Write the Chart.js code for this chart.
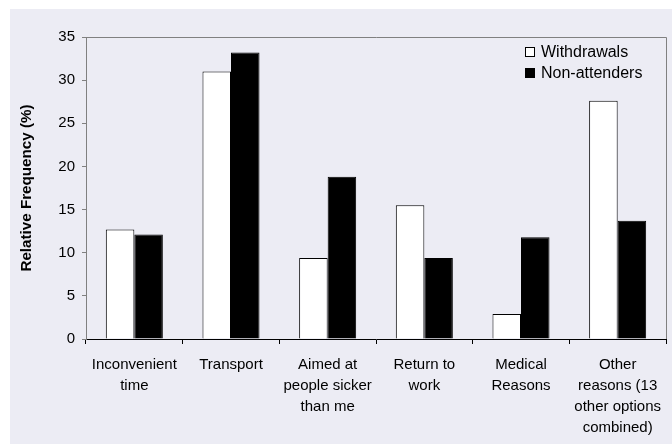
<!DOCTYPE html>
<html>
<head>
<meta charset="utf-8">
<script src="https://cdn.jsdelivr.net/npm/chart.js@4.4.0/dist/chart.umd.min.js"></script>
<style>
html,body{margin:0;padding:0;background:#ffffff;}
canvas{display:block;}
</style>
</head>
<body>
<canvas id="c" width="672" height="444"></canvas>
<script>
const categories = [
  ["Inconvenient", "time"],
  ["Transport"],
  ["Aimed at", "people sicker", "than me"],
  ["Return to", "work"],
  ["Medical", "Reasons"],
  ["Other", "reasons (13", "other options", "combined)"]
];
const withdrawals = [12.7, 31.0, 9.4, 15.5, 2.9, 27.6];
const nonAttenders = [12.1, 33.2, 18.8, 9.4, 11.8, 13.7];
const seriesNames = ["Withdrawals", "Non-attenders"];
const yTicksMax = 35;
const yTickStep = 5;
const yTitle = "Relative Frequency (%)";

const FONT = "'Liberation Sans', Arial, sans-serif";

const bgPlugin = {
  id: 'bg',
  beforeDraw(chart) {
    const ctx = chart.ctx;
    ctx.save();
    ctx.fillStyle = '#ffffff';
    ctx.fillRect(0, 0, chart.width, chart.height);
    ctx.fillStyle = '#ececf4';
    ctx.fillRect(10, 9, chart.width - 10, chart.height - 9);
    ctx.restore();
  },
  afterDraw(chart) {
    const ctx = chart.ctx;
    const a = chart.chartArea;
    ctx.save();
    ctx.strokeStyle = '#808080';
    ctx.lineWidth = 1;
    ctx.beginPath();
    ctx.moveTo(a.left, a.top + 0.5);
    ctx.lineTo(a.right + 0.5, a.top + 0.5);
    ctx.lineTo(a.right + 0.5, a.bottom);
    ctx.stroke();
    ctx.font = '16px ' + FONT;
    ctx.textBaseline = 'middle';
    ctx.textAlign = 'left';
    const lx = 525, ly = [52, 73];
    chart.data.datasets.forEach((ds, i) => {
      const y = ly[i];
      ctx.fillStyle = ds.backgroundColor;
      ctx.fillRect(lx, y - 5, 10, 10);
      ctx.strokeStyle = '#000000';
      ctx.strokeRect(lx + 0.5, y - 4.5, 9, 9);
      ctx.fillStyle = '#000000';
      ctx.fillText(ds.label, lx + 16, y + 1);
    });
    ctx.restore();
  }
};

new Chart(document.getElementById('c'), {
  type: 'bar',
  data: {
    labels: categories,
    datasets: [
      {
        label: seriesNames[0],
        data: withdrawals,
        backgroundColor: '#ffffff',
        borderColor: '#000000',
        borderWidth: 1,
        categoryPercentage: 0.59,
        barPercentage: 1.0
      },
      {
        label: seriesNames[1],
        data: nonAttenders,
        backgroundColor: '#000000',
        borderColor: '#000000',
        borderWidth: 1,
        categoryPercentage: 0.59,
        barPercentage: 1.0
      }
    ]
  },
  options: {
    responsive: false,
    animation: false,
    devicePixelRatio: 1,
    layout: { padding: { left: 0, top: 37, right: 6, bottom: 0 } },
    plugins: {
      legend: { display: false },
      tooltip: { enabled: false }
    },
    scales: {
      x: {
        grid: {
          display: true,
          drawOnChartArea: false,
          drawTicks: true,
          tickLength: 5,
          color: '#000000',
          offset: true
        },
        border: { display: true, color: '#000000', width: 1 },
        ticks: {
          color: '#000000',
          maxRotation: 0,
          minRotation: 0,
          autoSkip: false,
          padding: 10,
          font: { family: FONT, size: 15, lineHeight: 1.4 }
        },
        afterFit(scale) { scale.height = 105; }
      },
      y: {
        min: 0,
        max: yTicksMax,
        grid: {
          display: true,
          drawOnChartArea: false,
          drawTicks: true,
          tickLength: 4,
          color: '#808080'
        },
        border: { display: true, color: '#808080', width: 1 },
        ticks: {
          stepSize: yTickStep,
          color: '#000000',
          padding: 7,
          font: { family: FONT, size: 15 }
        },
        title: {
          display: true,
          text: yTitle,
          color: '#000000',
          padding: { top: 18, bottom: 0 },
          font: { family: FONT, size: 15.2, weight: 'bold', lineHeight: 1.2 }
        },
        afterFit(scale) { scale.width = 86; }
      }
    }
  },
  plugins: [bgPlugin]
});
</script>
</body>
</html>
